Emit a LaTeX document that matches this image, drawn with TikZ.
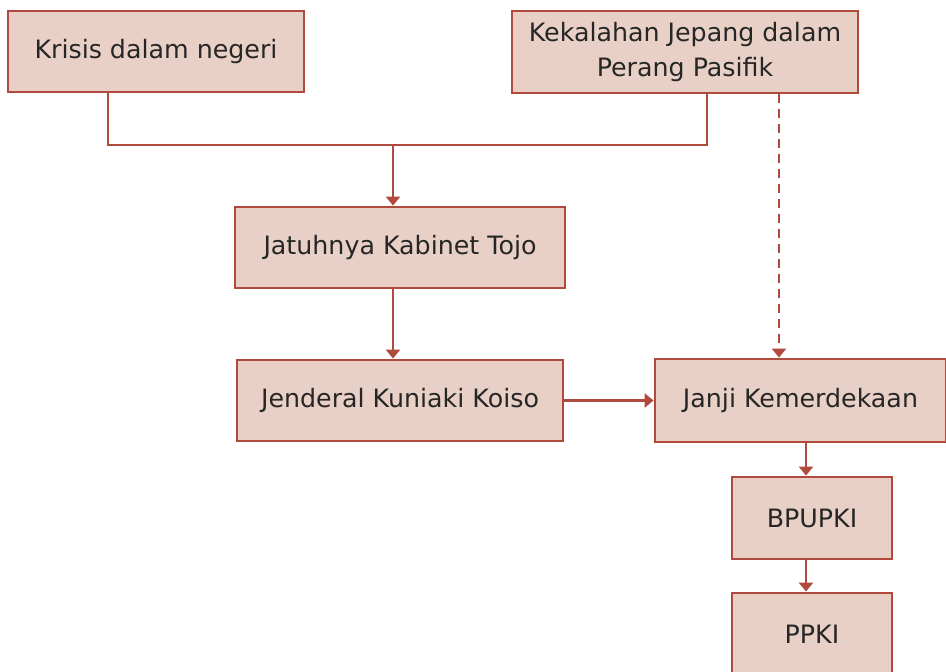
\documentclass[tikz,border=0pt]{standalone}
\usepackage{fontspec}
\setmainfont{DejaVu Sans}
\usetikzlibrary{arrows.meta}
\definecolor{boxfill}{HTML}{E8D0C7}
\definecolor{boxline}{HTML}{B04A3E}
\definecolor{txt}{HTML}{262626}
\begin{document}
\begin{tikzpicture}[x=1pt,y=-1pt,
  box/.style={draw=boxline, fill=boxfill, line width=2.8pt, inner sep=0pt,
    align=center, text=txt, font=\fontsize{25.3}{35}\selectfont},
  link/.style={draw=boxline, line width=2.4pt},
  arr/.style={link, -{Triangle[width=14pt,length=9pt]}}]
\useasboundingbox (0,0) rectangle (946,672);

% boxes
\node[box, minimum width=296pt, minimum height=81pt] (krisis) at (156,51.5) {Krisis dalam negeri};
\node[box, minimum width=346pt, minimum height=82pt] (kalah) at (685,52) {Kekalahan Jepang dalam\\Perang Pasifik};
\node[box, minimum width=330pt, minimum height=81pt] (tojo) at (400,247.5) {Jatuhnya Kabinet Tojo};
\node[box, minimum width=326pt, minimum height=81pt] (koiso) at (400,400.5) {Jenderal Kuniaki Koiso};
\node[box, minimum width=291pt, minimum height=83pt] (janji) at (800.5,400.5) {Janji Kemerdekaan};
\node[box, minimum width=160pt, minimum height=82pt] (bpupki) at (812,518) {BPUPKI};
\node[box, minimum width=160pt, minimum height=82pt] (ppki) at (812,634) {PPKI};

% junction points
\coordinate (jl) at (108,145);
\coordinate (jr) at (707,145);
\coordinate (jm) at (393,145);
\coordinate (dx) at (779,0);
\coordinate (vx) at (806,0);

% connectors
\draw[link] (krisis.south -| jl) -- (jl) -- (jr) -- (kalah.south -| jr);
\draw[arr] (jm) -- (tojo.north -| jm);
\draw[arr] (tojo.south -| jm) -- (koiso.north -| jm);
\draw[arr] (koiso.east) -- (janji.west |- koiso.east);
\draw[arr, dash pattern=on 9pt off 6pt] (kalah.south -| dx) -- (janji.north -| dx);
\draw[arr] (janji.south -| vx) -- (bpupki.north -| vx);
\draw[arr] (bpupki.south -| vx) -- (ppki.north -| vx);
\end{tikzpicture}
\end{document}
